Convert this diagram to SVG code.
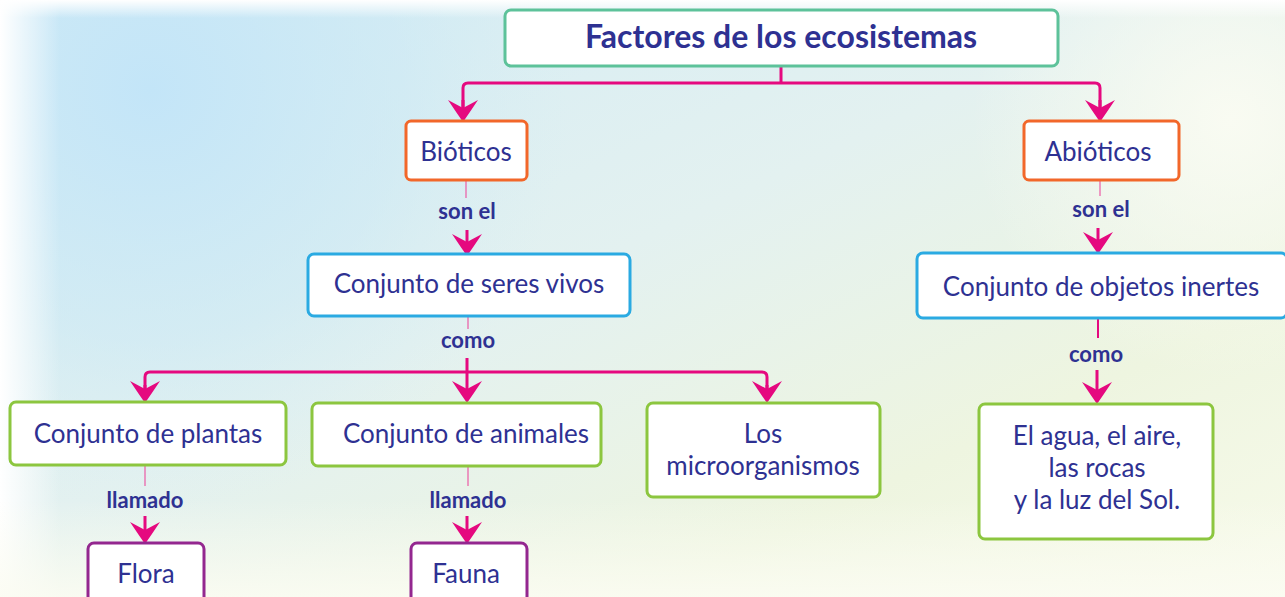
<svg xmlns="http://www.w3.org/2000/svg" width="1285" height="597" viewBox="0 0 1285 597">
  <defs>
    <linearGradient id="bgBase" x1="0" y1="0" x2="1" y2="1">
      <stop offset="0" stop-color="#d2ebf6"/>
      <stop offset="0.45" stop-color="#e3f1f0"/>
      <stop offset="0.75" stop-color="#eef5e0"/>
      <stop offset="1" stop-color="#f7faea"/>
    </linearGradient>
    <radialGradient id="bgBlue" cx="150" cy="90" r="420" gradientUnits="userSpaceOnUse">
      <stop offset="0" stop-color="#c3e5f8" stop-opacity="1"/>
      <stop offset="0.6" stop-color="#c9e8f5" stop-opacity="0.5"/>
      <stop offset="1" stop-color="#d5edf2" stop-opacity="0"/>
    </radialGradient>
    <radialGradient id="bgCream" cx="1230" cy="120" r="260" gradientUnits="userSpaceOnUse">
      <stop offset="0" stop-color="#fbfcf3" stop-opacity="0.9"/>
      <stop offset="1" stop-color="#fbfcf3" stop-opacity="0"/>
    </radialGradient>
    <linearGradient id="fadeLeft" x1="0" y1="0" x2="1" y2="0">
      <stop offset="0" stop-color="#ffffff" stop-opacity="1"/>
      <stop offset="1" stop-color="#ffffff" stop-opacity="0"/>
    </linearGradient>
    <linearGradient id="fadeTop" x1="0" y1="0" x2="0" y2="1">
      <stop offset="0" stop-color="#ffffff" stop-opacity="1"/>
      <stop offset="1" stop-color="#ffffff" stop-opacity="0"/>
    </linearGradient>
    <linearGradient id="fadeBottom" x1="0" y1="1" x2="0" y2="0">
      <stop offset="0" stop-color="#fbfcf2" stop-opacity="0.9"/>
      <stop offset="1" stop-color="#fbfcf2" stop-opacity="0"/>
    </linearGradient>
    <marker id="arrow" viewBox="-24 -18 28 36" refX="-2" refY="0" markerWidth="28" markerHeight="36" markerUnits="userSpaceOnUse" orient="auto">
      <path d="M2,0 Q-8,-7 -20,-15 L-12,0 L-20,15 Q-8,7 2,0 Z" fill="#e5097f"/>
    </marker>
    <style>
      .box { fill: #ffffff; stroke-width: 3; }
      .green-t { stroke: #5dc29a; }
      .orange { stroke: #f2672a; }
      .blue { stroke: #2aaae2; }
      .green { stroke: #8cc63f; }
      .purple { stroke: #93278f; }
      .t { font-family: "Lato", "Liberation Sans", sans-serif; fill: #2e3192; font-size: 26px; text-anchor: middle; }
      .title { font-weight: bold; font-size: 32px; }
      .lbl { font-family: "Lato", "Liberation Sans", sans-serif; fill: #2e3192; font-size: 22px; font-weight: bold; text-anchor: middle; }
      .conn { fill: none; stroke: #e5097f; stroke-width: 3; stroke-linejoin: round; }
      .thin { fill: none; stroke: #ec5aa5; stroke-width: 1.5; opacity: 0.8; }
    </style>
  </defs>

  <!-- background -->
  <rect x="0" y="0" width="1285" height="597" fill="url(#bgBase)"/>
  <rect x="0" y="0" width="1285" height="597" fill="url(#bgBlue)"/>
  <rect x="0" y="0" width="1285" height="597" fill="url(#bgCream)"/>
  <rect x="0" y="0" width="60" height="597" fill="url(#fadeLeft)"/>
  <rect x="0" y="0" width="1285" height="18" fill="url(#fadeTop)"/>
  <rect x="0" y="500" width="1285" height="97" fill="url(#fadeBottom)"/>

  <!-- connectors -->
  <g id="connectors">
    <path class="conn" d="M781,66 V83"/>
    <path class="conn" d="M463,118 V88 Q463,83 468,83 H1095 Q1100,83 1100,88 V118"/>
    <path class="conn" d="M463,100 V118" marker-end="url(#arrow)"/>
    <path class="conn" d="M1100,100 V118" marker-end="url(#arrow)"/>

    <path class="thin" d="M466,181 V198"/>
    <path class="conn" d="M467,230 V252" marker-end="url(#arrow)"/>

    <path class="thin" d="M1100,181 V196"/>
    <path class="conn" d="M1098,228 V250" marker-end="url(#arrow)"/>

    <path class="thin" d="M468,317 V329"/>
    <path class="conn" d="M467,358 V399" marker-end="url(#arrow)"/>
    <path class="conn" d="M145,399 V377 Q145,372 150,372 H762 Q767,372 767,377 V399"/>
    <path class="conn" d="M145,385 V399" marker-end="url(#arrow)"/>
    <path class="conn" d="M767,385 V399" marker-end="url(#arrow)"/>

    <path class="conn" d="M1098,319 V338" style="stroke-width:2"/>
    <path class="conn" d="M1097,370 V400" marker-end="url(#arrow)"/>

    <path class="thin" d="M145,466 V486"/>
    <path class="conn" d="M145,516 V540" marker-end="url(#arrow)"/>

    <path class="thin" d="M468,467 V486"/>
    <path class="conn" d="M467,516 V540" marker-end="url(#arrow)"/>

    <text class="lbl" x="467" y="219">son el</text>
    <text class="lbl" x="1101" y="217">son el</text>
    <text class="lbl" x="468" y="348">como</text>
    <text class="lbl" x="1096" y="362">como</text>
    <text class="lbl" x="145" y="508">llamado</text>
    <text class="lbl" x="468" y="508">llamado</text>
  </g>

  <!-- nodes -->
  <g id="factores">
    <rect class="box green-t" x="505" y="10" width="553" height="56" rx="6"/>
    <text class="t title" x="781" y="48">Factores de los ecosistemas</text>
  </g>
  <g id="bioticos">
    <rect class="box orange" x="406" y="121" width="121" height="59" rx="5"/>
    <text class="t" x="466" y="161">Bióticos</text>
  </g>
  <g id="abioticos">
    <rect class="box orange" x="1024" y="121" width="155" height="59" rx="5"/>
    <text class="t" x="1098" y="161">Abióticos</text>
  </g>
  <g id="seres-vivos">
    <rect class="box blue" x="308" y="254" width="322" height="62" rx="6"/>
    <text class="t" x="469" y="293">Conjunto de seres vivos</text>
  </g>
  <g id="objetos-inertes">
    <rect class="box blue" x="917" y="253" width="370" height="65" rx="6"/>
    <text class="t" x="1101" y="296">Conjunto de objetos inertes</text>
  </g>
  <g id="plantas">
    <rect class="box green" x="10" y="402" width="276" height="63" rx="6"/>
    <text class="t" x="148" y="443">Conjunto de plantas</text>
  </g>
  <g id="animales">
    <rect class="box green" x="312" y="403" width="289" height="63" rx="6"/>
    <text class="t" x="466" y="443">Conjunto de animales</text>
  </g>
  <g id="microorganismos">
    <rect class="box green" x="647" y="403" width="233" height="94" rx="6"/>
    <text class="t" x="763" y="443">Los</text>
    <text class="t" x="763" y="475">microorganismos</text>
  </g>
  <g id="agua">
    <rect class="box green" x="979" y="404" width="234" height="135" rx="6"/>
    <text class="t" x="1097" y="445">El agua, el aire,</text>
    <text class="t" x="1097" y="477">las rocas</text>
    <text class="t" x="1097" y="509">y la luz del Sol.</text>
  </g>
  <g id="flora">
    <rect class="box purple" x="88" y="543" width="116" height="70" rx="6"/>
    <text class="t" x="146" y="583">Flora</text>
  </g>
  <g id="fauna">
    <rect class="box purple" x="411" y="543" width="116" height="70" rx="6"/>
    <text class="t" x="466" y="583">Fauna</text>
  </g>
</svg>
